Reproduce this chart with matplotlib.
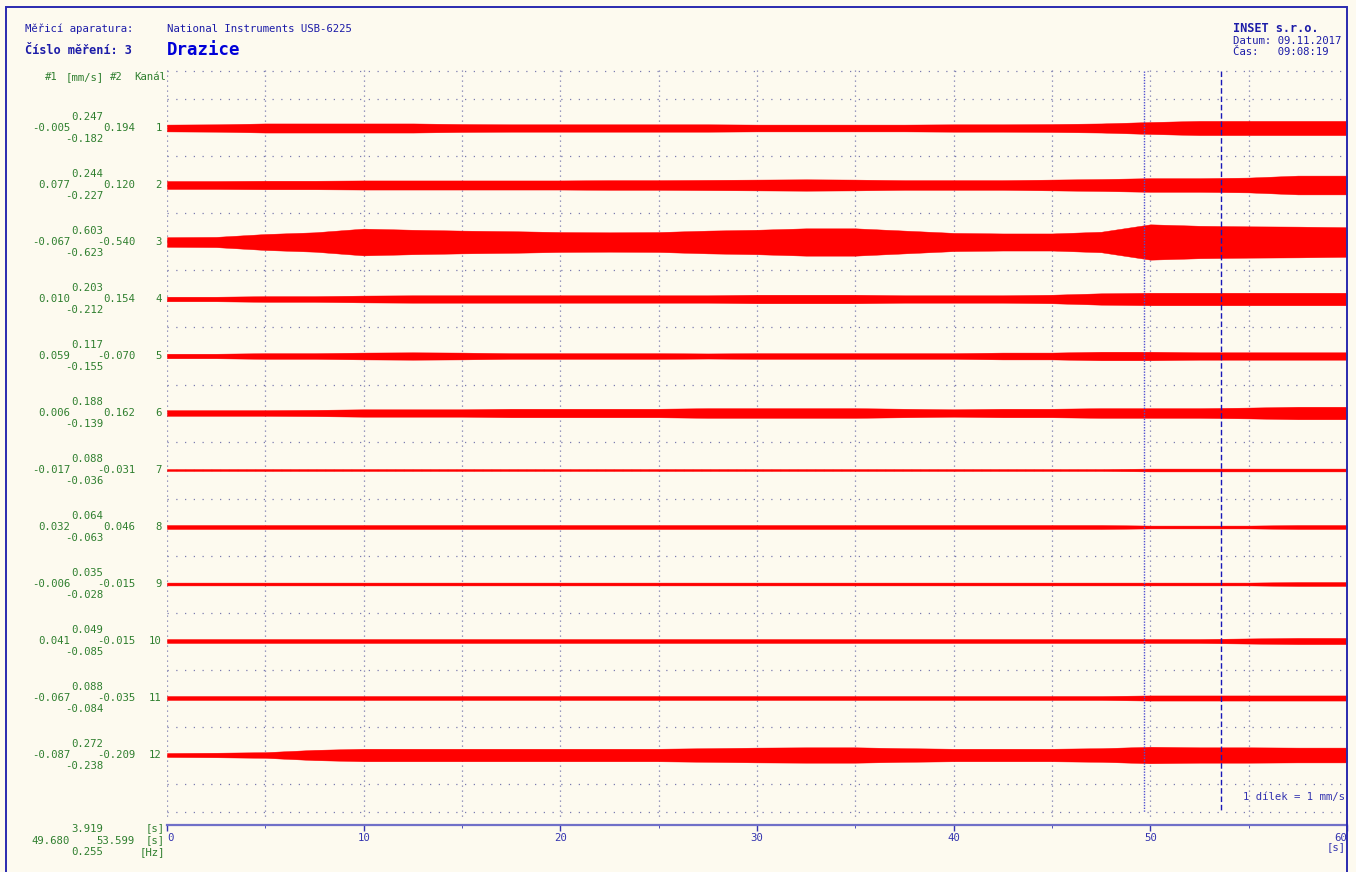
import numpy as np
import matplotlib
matplotlib.use("Agg")
import matplotlib.pyplot as plt
import matplotlib.transforms as mtransforms
from matplotlib.patches import Rectangle

plt.rcParams['font.family'] = ['DejaVu Sans Mono']

# ── DATA ──────────────────────────────────────────────────────────────────
# envelope (peak-to-peak, mm/s) of each channel, read every 2.5 s
t_env = [0, 2.5, 5, 7.5, 10, 12.5, 15, 17.5, 20, 22.5, 25, 27.5, 30,
         32.5, 35, 37.5, 40, 42.5, 45, 47.5, 50, 52.5, 55, 57.5, 60]

ch1 = [0.12, 0.13, 0.16, 0.16, 0.16, 0.16, 0.14, 0.13, 0.13, 0.13, 0.13, 0.13, 0.12,
       0.12, 0.12, 0.12, 0.13, 0.13, 0.14, 0.16, 0.21, 0.25, 0.25, 0.25, 0.25]
ch2 = [0.14, 0.14, 0.15, 0.15, 0.16, 0.16, 0.16, 0.16, 0.16, 0.17, 0.17, 0.18, 0.19,
       0.20, 0.19, 0.17, 0.17, 0.17, 0.19, 0.21, 0.24, 0.24, 0.26, 0.33, 0.33]
ch3 = [0.17, 0.18, 0.28, 0.34, 0.47, 0.43, 0.40, 0.38, 0.35, 0.34, 0.35, 0.40, 0.43,
       0.48, 0.48, 0.40, 0.32, 0.30, 0.30, 0.36, 0.62, 0.57, 0.55, 0.54, 0.52]
ch4 = [0.08, 0.08, 0.10, 0.10, 0.12, 0.13, 0.13, 0.13, 0.13, 0.13, 0.13, 0.13, 0.15,
       0.15, 0.15, 0.13, 0.13, 0.13, 0.15, 0.20, 0.22, 0.22, 0.22, 0.22, 0.22]
ch5 = [0.08, 0.08, 0.10, 0.10, 0.12, 0.13, 0.12, 0.10, 0.10, 0.10, 0.10, 0.09, 0.10,
       0.10, 0.10, 0.10, 0.10, 0.12, 0.12, 0.15, 0.15, 0.13, 0.13, 0.13, 0.13]
ch6 = [0.10, 0.10, 0.10, 0.11, 0.13, 0.13, 0.13, 0.15, 0.15, 0.15, 0.15, 0.17, 0.17,
       0.17, 0.17, 0.15, 0.13, 0.15, 0.15, 0.17, 0.17, 0.17, 0.19, 0.22, 0.22]
ch7 = [0.035, 0.035, 0.035, 0.035, 0.035, 0.035, 0.035, 0.035, 0.035, 0.035, 0.035, 0.035, 0.035,
       0.035, 0.035, 0.035, 0.035, 0.035, 0.035, 0.035, 0.05, 0.05, 0.05, 0.05, 0.05]
ch8 = [0.07, 0.07, 0.07, 0.07, 0.07, 0.07, 0.07, 0.07, 0.07, 0.07, 0.07, 0.07, 0.07,
       0.07, 0.07, 0.07, 0.07, 0.07, 0.07, 0.07, 0.05, 0.05, 0.05, 0.07, 0.07]
ch9 = [0.05, 0.05, 0.05, 0.05, 0.05, 0.05, 0.05, 0.05, 0.05, 0.05, 0.05, 0.05, 0.05,
       0.05, 0.05, 0.05, 0.05, 0.05, 0.05, 0.05, 0.05, 0.05, 0.05, 0.07, 0.07]
ch10 = [0.07, 0.07, 0.07, 0.07, 0.07, 0.07, 0.07, 0.07, 0.07, 0.07, 0.07, 0.07, 0.07,
        0.07, 0.07, 0.07, 0.07, 0.07, 0.07, 0.07, 0.07, 0.07, 0.09, 0.11, 0.11]
ch11 = [0.07, 0.07, 0.07, 0.07, 0.07, 0.07, 0.07, 0.07, 0.07, 0.07, 0.07, 0.07, 0.07,
        0.07, 0.07, 0.07, 0.07, 0.07, 0.07, 0.07, 0.09, 0.09, 0.09, 0.09, 0.09]
ch12 = [0.07, 0.08, 0.10, 0.18, 0.22, 0.22, 0.22, 0.22, 0.22, 0.22, 0.22, 0.24, 0.26,
        0.27, 0.27, 0.24, 0.22, 0.22, 0.22, 0.24, 0.29, 0.27, 0.27, 0.26, 0.26]
envelopes = [ch1, ch2, ch3, ch4, ch5, ch6, ch7, ch8, ch9, ch10, ch11, ch12]

channels = [1, 2, 3, 4, 5, 6, 7, 8, 9, 10, 11, 12]
val_max = [0.247, 0.244, 0.603, 0.203, 0.117, 0.188, 0.088, 0.064, 0.035, 0.049, 0.088, 0.272]
val_c1 = [-0.005, 0.077, -0.067, 0.010, 0.059, 0.006, -0.017, 0.032, -0.006, 0.041, -0.067, -0.087]
val_c2 = [0.194, 0.120, -0.540, 0.154, -0.070, 0.162, -0.031, 0.046, -0.015, -0.015, -0.035, -0.209]
val_min = [-0.182, -0.227, -0.623, -0.212, -0.155, -0.139, -0.036, -0.063, -0.028, -0.085, -0.084, -0.238]

cursor1 = 49.680
cursor2 = 53.599
delta_t = 3.919
freq = 0.255

x_ticks = [0, 10, 20, 30, 40, 50, 60]

# ── STYLE ─────────────────────────────────────────────────────────────────
W, H = 1356, 872
BG = '#FDFAEF'
GREEN = '#2F7F2F'
BLUE = '#1C1CA8'
TICKBLUE = '#3434B0'
GRID = '#7C7CB0'
RED = '#FF0000'
FS = 7.7

fig = plt.figure(figsize=(W / 100, H / 100), dpi=100, facecolor=BG)
ax = fig.add_axes([167 / W, 1 - 825 / H, 1180 / W, 755 / H])
ax.set_facecolor(BG)
ax.set_xlim(0, 60)
ax.set_ylim(13.228, -0.0175)

for side in ['left', 'top', 'right']:
    ax.spines[side].set_visible(False)
ax.spines['bottom'].set_color('#7070C8')
ax.spines['bottom'].set_linewidth(1.6)
ax.set_yticks([])

# dotted grid
rows = np.arange(0, 13.01, 0.5)
ax.hlines(rows, 0, 60, colors=GRID, linewidth=0.9, linestyles=(0, (1, 6)), zorder=1)
ax.vlines(np.arange(0, 56, 5), -0.0175, 13.1, colors=GRID, linewidth=0.9,
          linestyles=(0, (1, 3)), zorder=1)

# signal bands
t = np.array(t_env)
for ch, env in zip(channels, envelopes):
    half = np.array(env) / 2
    ax.fill_between(t, ch - half, ch + half, color=RED, linewidth=0.3,
                    edgecolor=RED, zorder=2)

# cursors
ax.vlines(cursor1, 0, 13, colors='#5050D0', linewidth=1.0, linestyles=(0, (1, 1)), zorder=3)
ax.vlines(cursor2, 0, 13, colors='#1818B8', linewidth=1.0, linestyles=(0, (4, 2)), zorder=3)

# x axis
ax.set_xticks(x_ticks)
ax.set_xticklabels([str(v) for v in x_ticks])
ax.set_xticks(np.arange(5, 60, 10), minor=True)
ax.tick_params(axis='x', colors=TICKBLUE, labelsize=FS, length=4, width=1, pad=1.5,
               direction='out')
ax.tick_params(axis='x', which='minor', length=2, colors=TICKBLUE)
labs = ax.get_xticklabels()
labs[0].set_horizontalalignment('left')
labs[-1].set_horizontalalignment('right')


def ftxt(x, y, s, **kw):
    kw.setdefault('size', FS)
    kw.setdefault('va', 'center')
    fig.text(x / W, 1 - y / H, s, **kw)


ftxt(1346, 847, '[s]', ha='right', color=TICKBLUE)
ftxt(1243, 797, '1 dílek = 1 mm/s', ha='left', color=TICKBLUE)

# header
ftxt(25, 29, 'Měřicí aparatura:', color=BLUE)
ftxt(167, 29, 'National Instruments USB-6225', color=BLUE)
ftxt(25, 51, 'Číslo měření: 3', color=BLUE, weight='bold', size=8.6)
ftxt(167, 50, 'Drazice', color='#0000D8', weight='bold', size=12.5)
ftxt(1233, 29, 'INSET s.r.o.', color=BLUE, weight='bold', size=8.6)
ftxt(1233, 41, 'Datum: 09.11.2017', color=BLUE)
ftxt(1233, 52, 'Čas:   09:08:19', color=BLUE)

# channel labels
ftxt(45, 77, '#1', color=GREEN)
ftxt(66, 77, '[mm/s]', color=GREEN)
ftxt(110, 77, '#2', color=GREEN)
ftxt(166, 77, 'Kanál', color=GREEN, ha='right')

trans = mtransforms.blended_transform_factory(fig.transFigure, ax.transData)
off = 11 / 57
for i, ch in enumerate(channels):
    kw = dict(transform=trans, color=GREEN, size=FS, va='center', ha='right')
    fig.text(103 / W, ch - off, f'{val_max[i]:.3f}', **kw)
    fig.text(70 / W, ch, f'{val_c1[i]:.3f}', **kw)
    fig.text(135 / W, ch, f'{val_c2[i]:.3f}', **kw)
    fig.text(103 / W, ch + off, f'{val_min[i]:.3f}', **kw)
    fig.text(162 / W, ch, str(ch), **kw)

# cursor readout
ftxt(103, 829, f'{delta_t:.3f}', color=GREEN, ha='right')
ftxt(70, 841, f'{cursor1:.3f}', color=GREEN, ha='right')
ftxt(135, 841, f'{cursor2:.3f}', color=GREEN, ha='right')
ftxt(103, 852, f'{freq:.3f}', color=GREEN, ha='right')
ftxt(165, 828, '[s]', color=GREEN, ha='right')
ftxt(165, 840, '[s]', color=GREEN, ha='right')
ftxt(165, 852, '[Hz]', color=GREEN, ha='right')

# frame
fig.add_artist(Rectangle((6 / W, -0.02), (1347 - 6) / W, (H - 7) / H + 0.02,
                         transform=fig.transFigure, fill=False,
                         edgecolor='#2A2AB0', linewidth=1.4))

fig.savefig('out.png', dpi=100, facecolor=BG)
